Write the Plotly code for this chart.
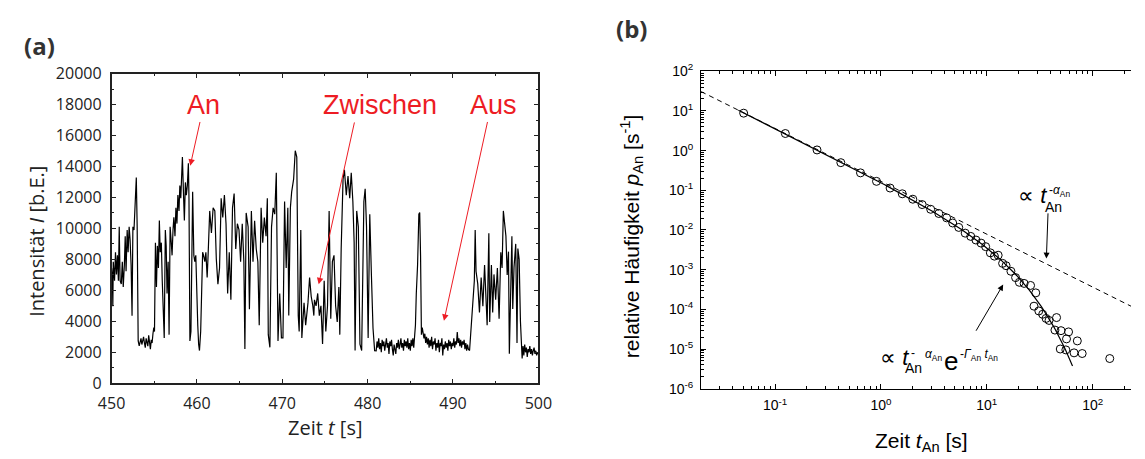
import numpy as np
import plotly.graph_objects as go

W, H = 1145, 459

# ---------------- (a) Intensitätsspur eines einzelnen Emitters ----------------
zeit = [
    450.00, 450.10, 450.15, 450.20, 450.35, 450.46, 450.57, 450.69, 450.80, 450.90,
    451.00, 451.14, 451.26, 451.37, 451.50, 451.60, 451.70, 451.83, 451.94, 452.06,
    452.17, 452.29, 452.40, 452.50, 452.63, 452.78, 452.90, 453.00, 453.12, 453.24,
    453.35, 453.45, 453.55, 453.65, 453.75, 453.85, 453.95, 454.05, 454.15, 454.25,
    454.35, 454.45, 454.55, 454.65, 454.75, 454.85, 454.95, 455.03, 455.14, 455.26,
    455.37, 455.49, 455.60, 455.70, 455.83, 455.94, 456.06, 456.17, 456.30, 456.40,
    456.50, 456.63, 456.74, 456.86, 456.97, 457.09, 457.20, 457.30, 457.43, 457.54,
    457.66, 457.77, 457.90, 458.00, 458.11, 458.23, 458.30, 458.42, 458.53, 458.65,
    458.76, 458.88, 459.00, 459.07, 459.18, 459.30, 459.40, 459.50, 459.64, 459.75,
    459.87, 459.98, 460.10, 460.20, 460.30, 460.44, 460.55, 460.67, 460.78, 460.93,
    461.05, 461.20, 461.31, 461.50, 461.70, 461.90, 462.10, 462.27, 462.46, 462.65,
    462.84, 463.03, 463.22, 463.41, 463.60, 463.79, 463.98, 464.17, 464.36, 464.55,
    464.74, 464.93, 465.12, 465.31, 465.50, 465.62, 465.77, 466.00, 466.15, 466.38,
    466.57, 466.76, 466.95, 467.14, 467.30, 467.52, 467.71, 467.90, 468.10, 468.25,
    468.36, 468.55, 468.74, 468.93, 469.12, 469.30, 469.50, 469.70, 469.90, 470.08,
    470.27, 470.46, 470.65, 470.76, 470.95, 471.10, 471.33, 471.52, 471.70, 471.87,
    471.98, 472.17, 472.29, 472.55, 472.74, 473.01, 473.20, 473.39, 473.58, 473.70,
    473.77, 473.96, 474.15, 474.34, 474.53, 474.72, 474.91, 475.10, 475.30, 475.49,
    475.68, 475.87, 476.06, 476.25, 476.44, 476.63, 476.74, 476.90, 477.12, 477.28,
    477.50, 477.70, 477.90, 478.08, 478.27, 478.42, 478.53, 478.72, 478.91, 479.10,
    479.30, 479.56, 479.71, 479.87, 480.06, 480.25, 480.44, 480.63, 480.82, 481.00,
    481.10, 481.20, 481.30, 481.40, 481.50, 481.60, 481.70, 481.80, 481.90, 482.00,
    482.10, 482.20, 482.30, 482.40, 482.50, 482.60, 482.70, 482.80, 482.90, 483.00,
    483.10, 483.20, 483.30, 483.40, 483.50, 483.60, 483.70, 483.80, 483.90, 484.00,
    484.10, 484.20, 484.30, 484.40, 484.50, 484.60, 484.70, 484.80, 484.90, 485.00,
    485.10, 485.20, 485.30, 485.40, 485.50, 485.60, 485.70, 485.85, 486.00, 486.10,
    486.20, 486.30, 486.40, 486.50, 486.60, 486.70, 486.80, 486.90, 487.00, 487.10,
    487.20, 487.30, 487.40, 487.50, 487.60, 487.70, 487.80, 487.90, 488.00, 488.10,
    488.20, 488.30, 488.40, 488.50, 488.60, 488.70, 488.80, 488.90, 489.00, 489.10,
    489.20, 489.30, 489.40, 489.50, 489.60, 489.70, 489.80, 489.90, 490.00, 490.10,
    490.20, 490.30, 490.40, 490.50, 490.60, 490.70, 490.80, 490.90, 491.00, 491.10,
    491.20, 491.30, 491.40, 491.50, 491.60, 491.70, 491.80, 491.94, 492.10, 492.30,
    492.50, 492.60, 492.70, 492.90, 493.10, 493.30, 493.50, 493.70, 493.85, 494.00,
    494.20, 494.30, 494.50, 494.65, 494.80, 495.00, 495.20, 495.40, 495.60, 495.75,
    495.90, 496.05, 496.20, 496.35, 496.50, 496.60, 496.75, 496.90, 497.00, 497.15,
    497.35, 497.50, 497.60, 497.75, 497.90, 498.00, 498.10, 498.20, 498.30, 498.40,
    498.50, 498.60, 498.70, 498.80, 498.90, 499.00, 499.10, 499.20, 499.30, 499.40,
    499.50, 499.60, 499.70, 499.80, 499.90, 500.00,
]
intensitaet = [
    7440, 6820, 4980, 7850, 6620, 8460, 7030, 8260, 6620, 10100,
    6620, 6410, 7850, 6210, 7640, 9490, 7230, 9900, 8460, 10100,
    9280, 7640, 4360, 10100, 9900, 11950, 13280, 10100, 2730, 2420,
    2700, 2900, 2500, 2800, 3000, 2600, 2300, 2900, 2700, 2400,
    3100, 2500, 2200, 2800, 2600, 3200, 3600, 3340, 9080, 6210,
    8870, 7440, 10510, 8460, 9080, 6620, 5180, 2930, 9900, 8870,
    5800, 7850, 3140, 10100, 9280, 8260, 9900, 10720, 9490, 11330,
    10310, 12150, 11130, 12770, 11950, 13590, 14610, 12360, 10510, 12970,
    12150, 12770, 14200, 11950, 2730, 3340, 9280, 12360, 8260, 7850,
    8260, 5590, 3750, 2520, 2110, 3340, 7030, 8460, 8260, 7850,
    8460, 6830, 8260, 11130, 9700, 11330, 11130, 8050, 6400, 7440,
    11950, 10700, 12150, 10300, 5800, 8460, 5400, 11330, 12250, 8670,
    10300, 9900, 7850, 10300, 7850, 2215, 11000, 10100, 4780, 11130,
    7850, 10500, 8670, 7850, 3750, 11330, 9080, 10700, 9490, 11950,
    3140, 2320, 10100, 11330, 10920, 13590, 2730, 5800, 2930, 2930,
    11740, 7440, 11330, 4370, 11330, 12360, 13180, 15020, 14610, 4370,
    3340, 9900, 2930, 5190, 3750, 5190, 6830, 5600, 5000, 4370,
    5390, 5000, 5800, 4370, 5000, 2530, 6620, 3340, 5000, 11130,
    4160, 7850, 8260, 5000, 3960, 6210, 3140, 8670, 13180, 13790,
    12150, 13380, 11950, 13590, 11740, 9080, 2110, 11130, 10100, 2530,
    2110, 11740, 12560, 10100, 2930, 10920, 7030, 3550, 2110, 2100,
    2700, 2300, 2900, 2200, 2600, 2000, 2800, 2400, 2700, 2100,
    2500, 2900, 2300, 2600, 1900, 2700, 2400, 2800, 2200, 1800,
    2500, 2100, 1900, 2600, 2300, 2800, 2200, 2500, 2900, 2300,
    2600, 2100, 2800, 2400, 2700, 2300, 2900, 2200, 2600, 2100,
    2800, 2400, 2900, 2300, 3000, 3750, 5800, 7640, 10920, 11030,
    8260, 3140, 3600, 3340, 2900, 3200, 2600, 3000, 2500, 2900,
    2300, 2800, 2400, 3000, 2200, 2700, 2500, 2900, 2100, 2600,
    2300, 2800, 2000, 2600, 2400, 2900, 1800, 2500, 2200, 2700,
    2300, 2600, 2100, 2800, 2400, 2700, 2200, 2600, 2400, 2900,
    2300, 2700, 2500, 3300, 2600, 2900, 2400, 2800, 2300, 2700,
    2500, 2800, 2200, 2600, 2100, 2500, 2200, 2110, 3550, 4570,
    6620, 9900, 7230, 6420, 4570, 6820, 4980, 7640, 5390, 3750,
    9690, 3960, 7640, 4570, 7030, 5390, 7440, 4160, 8460, 7440,
    11130, 10310, 9500, 7000, 8500, 1900, 6000, 9500, 4800, 7500,
    9000, 2600, 8700, 8000, 4000, 2300, 1600, 2400, 1800, 2500,
    2000, 2300, 1700, 2200, 2000, 2400, 1900, 2200, 1800, 2100,
    2300, 1900, 2100, 1800, 2000, 1900,
]

# Zustandsbeschriftungen: (Text, Textposition t/I, Pfeilspitze t/I, Pfeilbeginn t/I)
zustaende = [
    ("An",       460.81, 18000, 459.22, 14050, 460.40, 16970),
    ("Zwischen", 481.43, 18000, 474.27, 6390, 478.49, 16940),
    ("Aus",      494.69, 18000, 488.94, 4030, 494.08, 16970),
]

# ---------------- (b) Verteilung der An-Zeiten ----------------
t_an = [
    0.0505, 0.125, 0.249, 0.418, 0.641, 0.908, 1.22, 1.59, 2.00, 2.45,
    2.95, 3.52, 4.17, 4.76, 5.43, 6.25, 7.05, 7.89, 8.83, 9.75,
    10.8, 11.8, 12.8, 14.1, 15.2, 16.9, 18.7, 20.3, 22.5, 25.9,
    29.0, 27.9, 31.0, 33.7, 36.3, 38.7, 45.6, 44.0, 50.2, 59.2,
    56.6, 71.6, 49.4, 55.8, 66.7, 79.6, 145.0,
]
p_an = [
    8.79, 2.70, 1.04, 0.497, 0.275, 0.168, 0.114, 0.0817, 0.0596, 0.0437,
    0.0332, 0.0260, 0.0202, 0.0150, 0.0116, 0.00832, 0.00689, 0.00558, 0.00467, 0.00380,
    0.00265, 0.00219, 0.00231, 0.00144, 0.00126, 0.00091, 0.00063, 0.00048, 0.00045, 0.00040,
    0.00026, 1.2e-4, 9.1e-5, 7.5e-5, 5.9e-5, 5.25e-5, 6.2e-5, 3.0e-5, 2.9e-5, 2.7e-5,
    1.8e-5, 1.6e-5, 1.0e-5, 9.5e-6, 8.0e-6, 7.7e-6, 5.75e-6,
]

# Anpassung: Potenzgesetz (gestrichelt) und Potenzgesetz mit exponentiellem Abfall
alpha_an = 1.332
amp_an = 0.168
gamma_an = 0.08
potenz_t_bereich = (0.02, 400.0)
abfall_t_bereich = (0.045, 64.5)

t_pot = np.geomspace(*potenz_t_bereich, 200)
p_pot = amp_an * t_pot ** (-alpha_an)
t_abf = np.geomspace(*abfall_t_bereich, 300)
p_abf = amp_an * t_abf ** (-alpha_an) * np.exp(-gamma_an * t_abf)

RED = "#ed1c24"
FONT_A = "Open Sans"
FONT_B = "Liberation Sans"


def px(x, y):
    """Pixelposition im Fenster -> Papierkoordinaten."""
    return x / W, 1 - y / H


fig = go.Figure()

fig.add_trace(go.Scatter(
    x=zeit, y=intensitaet, mode="lines",
    line=dict(color="black", width=1.2),
    xaxis="x", yaxis="y", showlegend=False,
))

fig.add_trace(go.Scatter(
    x=t_pot, y=p_pot, mode="lines",
    line=dict(color="black", width=1, dash="5px,4px"),
    xaxis="x2", yaxis="y2", showlegend=False,
))
fig.add_trace(go.Scatter(
    x=t_abf, y=p_abf, mode="lines",
    line=dict(color="black", width=1.2),
    xaxis="x2", yaxis="y2", showlegend=False,
))
fig.add_trace(go.Scatter(
    x=t_an, y=p_an, mode="markers",
    marker=dict(symbol="circle-open", size=8, color="black", line=dict(width=1)),
    xaxis="x2", yaxis="y2", showlegend=False,
))

ann = []


def text_at(txt, x, y, size, family=FONT_B, color="black", xanchor="center",
            yanchor="middle", angle=0):
    xp, yp = px(x, y)
    ann.append(dict(x=xp, y=yp, xref="paper", yref="paper", text=txt,
                    showarrow=False, textangle=angle,
                    font=dict(family=family, size=size, color=color),
                    xanchor=xanchor, yanchor=yanchor))


# ---- Beschriftungen (a)
for name, tx, ty, hx, hy, sx, sy in zustaende:
    ann.append(dict(x=tx, y=ty, xref="x", yref="y", text=name, showarrow=False,
                    font=dict(family=FONT_B, size=27, color=RED),
                    xanchor="center", yanchor="middle"))
    ann.append(dict(x=hx, y=hy, xref="x", yref="y", ax=sx, ay=sy,
                    axref="x", ayref="y", text="", showarrow=True,
                    arrowhead=2, arrowsize=1.3, arrowwidth=1, arrowcolor=RED))

text_at("<b>(a)</b>", 26, 36, 24, FONT_A, "#333")
text_at("Zeit <i>t</i> [s]", 318.5, 437, 20, FONT_A, "#222")
text_at("Intensität <i>I</i> [b.E.]", 23, 242, 20, FONT_A, "#222", angle=-90)

# ---- Beschriftungen (b)
text_at("<b>(b)</b>", 633, 18, 24, FONT_A, "#333")
text_at("Zeit <i>t</i><sub>An</sub> [s]", 930, 437, 21, yanchor="top")
text_at("relative Häufigkeit <i>p</i><sub>An</sub> [s<sup>-1</sup>]", 633, 237, 21,
        angle=-90)

# Formel am Potenzgesetz
text_at("∝ <i>t</i>", 1044, 194, 22)
text_at("-<i>α</i><sub>An</sub>", 1059, 189, 12, xanchor="left")
text_at("An", 1066, 206, 14)

# Formel an der Kurve mit exponentiellem Abfall
text_at("∝ <i>t</i>", 903, 364, 22)
text_at("-", 917, 359, 12, xanchor="left")
text_at("<i>α</i><sub>An</sub>", 932, 361, 12, xanchor="left")
text_at("An", 922, 375, 14)
text_at("e", 961, 368, 26)
text_at("-<i>Γ</i><sub>An</sub> <i>t</i><sub>An</sub>", 968, 361, 12, xanchor="left")

# Zeigerpfeile auf die Kurven (Spitze in log-Achsenkoordinaten, Ende als Pixelversatz)
ann.append(dict(x=1.5626, y=-2.72, xref="x2", yref="y2", ax=1.7, ay=-46.7,
                text="", showarrow=True, arrowhead=2, arrowsize=1.2,
                arrowwidth=1, arrowcolor="black"))
ann.append(dict(x=1.1547, y=-3.375, xref="x2", yref="y2", ax=-28, ay=47.7,
                text="", showarrow=True, arrowhead=2, arrowsize=1.2,
                arrowwidth=1, arrowcolor="black"))

y_dekaden = list(range(-6, 3))
x_dekaden = [-1, 0, 1, 2]
minor_x = [m * 10.0 ** d for d in range(-2, 3) for m in range(2, 10)]
minor_y = [m * 10.0 ** d for d in range(-6, 2) for m in range(2, 10)]

axis_a = dict(showline=True, linecolor="#222", linewidth=1.5, mirror="allticks",
              ticks="inside", ticklen=5, tickwidth=1.2, tickcolor="#222",
              showgrid=False, zeroline=False, ticklabelstandoff=5,
              tickfont=dict(family=FONT_A, size=16, color="#222"))
axis_b = dict(showline=True, linecolor="black", linewidth=1,
              ticks="inside", ticklen=5, tickwidth=1, tickcolor="black",
              showgrid=False, zeroline=False, type="log", ticklabelstandoff=4,
              tickfont=dict(family=FONT_B, size=14, color="black"))

fig.update_layout(
    width=W, height=H, margin=dict(l=0, r=0, t=0, b=0),
    paper_bgcolor="white", plot_bgcolor="white",
    xaxis=dict(axis_a, domain=[100 / W, 537.5 / W], range=[450, 500],
               tickvals=list(range(450, 501, 10)),
               minor=dict(ticks="inside", ticklen=3, dtick=5, tickcolor="#222")),
    yaxis=dict(axis_a, domain=[68 / H, 393.3 / H], range=[0, 20000],
               tickvals=list(range(0, 20001, 2000)), tickformat="d",
               minor=dict(ticks="inside", ticklen=3, dtick=1000, tickcolor="#222")),
    xaxis2=dict(axis_b, domain=[704.3 / W, 1.0], range=[-1.699, 2.362],
                anchor="y2", mirror="allticks",
                tickvals=[10.0 ** d for d in x_dekaden],
                ticktext=[f"10<sup>{d}</sup>" for d in x_dekaden],
                minor=dict(ticks="inside", ticklen=3, tickvals=minor_x, tickcolor="black")),
    yaxis2=dict(axis_b, domain=[62.3 / H, 395.7 / H], range=[-6, 2],
                anchor="x2", mirror=False,
                tickvals=[10.0 ** d for d in y_dekaden],
                ticktext=[f"10<sup>{d}</sup>" for d in y_dekaden],
                minor=dict(ticks="inside", ticklen=3, tickvals=minor_y, tickcolor="black")),
    annotations=ann,
)

fig.write_html("out.html")
